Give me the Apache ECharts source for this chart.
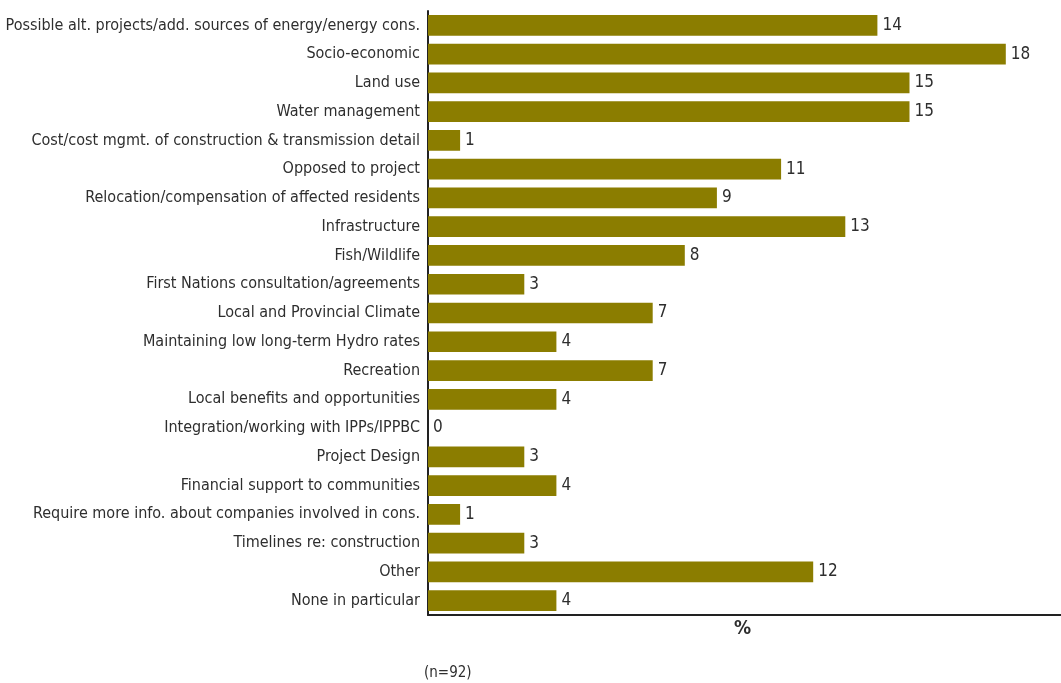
<!DOCTYPE html>
<html>
<head>
<meta charset="utf-8">
<script src="https://cdn.jsdelivr.net/npm/echarts@6/dist/echarts.min.js"></script>
<style>
  html, body { margin: 0; padding: 0; background: #fff; }
  #chart { width: 1061px; height: 683px; }
</style>
</head>
<body>
<div id="chart"></div>
<script>
// categories, top to bottom
const categories = [
  'Possible alt. projects/add. sources of energy/energy cons.',
  'Socio-economic',
  'Land use',
  'Water management',
  'Cost/cost mgmt. of construction & transmission detail',
  'Opposed to project',
  'Relocation/compensation of affected residents',
  'Infrastructure',
  'Fish/Wildlife',
  'First Nations consultation/agreements',
  'Local and Provincial Climate',
  'Maintaining low long-term Hydro rates',
  'Recreation',
  'Local benefits and opportunities',
  'Integration/working with IPPs/IPPBC',
  'Project Design',
  'Financial support to communities',
  'Require more info. about companies involved in cons.',
  'Timelines re: construction',
  'Other',
  'None in particular'
];
// percent of respondents
const percents = [14, 18, 15, 15, 1, 11, 9, 13, 8, 3, 7, 4, 7, 4, 0, 3, 4, 1, 3, 12, 4];

const axisTitle = '%';
const sampleNote = '(n=92)';

const font = '"Liberation Sans Narrow", "DejaVu Sans Condensed", "Noto Sans", sans-serif';
const textColor = '#2e2e2e';

const chart = echarts.init(document.getElementById('chart'));

const option = {
  animation: false,
  grid: {
    left: 428,
    right: -9,
    top: 11,
    bottom: 68,
    containLabel: false,
    outerBoundsMode: 'none'
  },
  xAxis: {
    type: 'value',
    min: 0,
    max: 20,
    axisLine: { show: true, lineStyle: { color: '#222', width: 2 } },
    axisTick: { show: false },
    axisLabel: { show: false },
    splitLine: { show: false }
  },
  yAxis: {
    type: 'category',
    inverse: true,
    data: categories,
    axisLine: { show: true, lineStyle: { color: '#222', width: 2 } },
    axisTick: { show: false },
    axisLabel: {
      color: textColor,
      fontFamily: font,
      fontSize: 16,
      margin: 8
    }
  },
  series: [{
    type: 'bar',
    data: percents,
    barWidth: '72%',
    itemStyle: { color: '#8b7d00' },
    label: {
      show: true,
      position: 'right',
      distance: 5,
      color: textColor,
      fontFamily: font,
      fontSize: 17
    }
  }],
  graphic: [
    {
      type: 'text',
      left: 734,
      top: 620,
      style: { text: axisTitle, fill: textColor, font: 'bold 19px ' + font }
    },
    {
      type: 'text',
      left: 424,
      top: 666,
      style: { text: sampleNote, fill: textColor, font: '15px ' + font }
    }
  ]
};

chart.setOption(option);
</script>
</body>
</html>
